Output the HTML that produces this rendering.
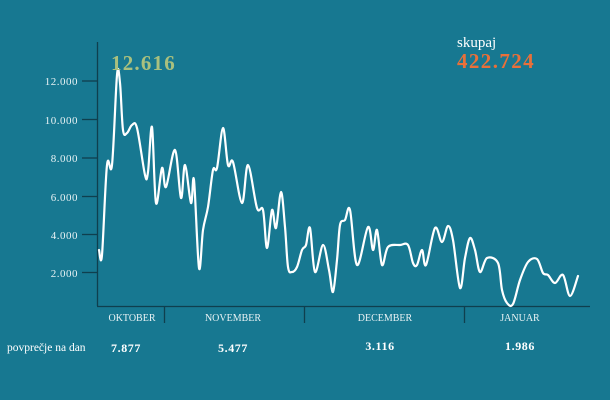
<!DOCTYPE html>
<html><head><meta charset="utf-8"><style>
html,body{margin:0;padding:0;background:#177891;}
svg{display:block;}
text{font-family:"Liberation Serif",serif;}
</style></head><body>
<svg width="610" height="400" viewBox="0 0 610 400" xmlns="http://www.w3.org/2000/svg">
<rect width="610" height="400" fill="#177891"/>
<g stroke="#0f3f4e" stroke-width="1.3" fill="none">
<line x1="97.5" y1="42" x2="97.5" y2="306"/>
<line x1="97" y1="306.5" x2="590" y2="306.5"/>
<line x1="164.5" y1="306" x2="164.5" y2="323"/>
<line x1="304.5" y1="306" x2="304.5" y2="323"/>
<line x1="464.5" y1="306" x2="464.5" y2="323"/>
<line x1="82" y1="81" x2="97" y2="81"/>
<line x1="82" y1="119.5" x2="97" y2="119.5"/>
<line x1="82" y1="158" x2="97" y2="158"/>
<line x1="82" y1="196.5" x2="97" y2="196.5"/>
<line x1="82" y1="234.5" x2="97" y2="234.5"/>
<line x1="82" y1="272.5" x2="97" y2="272.5"/>
</g>
<g fill="#e8f2f4" font-size="11" text-anchor="end" letter-spacing="0.5">
<text x="78" y="85">12.000</text>
<text x="78" y="124">10.000</text>
<text x="78" y="162">8.000</text>
<text x="78" y="201">6.000</text>
<text x="78" y="239">4.000</text>
<text x="78" y="277">2.000</text>
</g>
<path id="ln" fill="none" stroke="#ffffff" stroke-width="2.2" stroke-linejoin="round" stroke-linecap="round" d=""/>
<text x="111" y="70" font-size="21" font-weight="bold" fill="#a9c07e" letter-spacing="1.2">12.616</text>
<text x="457" y="47" font-size="15" fill="#ffffff">skupaj</text>
<text x="457" y="68" font-size="21" font-weight="bold" fill="#e8703a" letter-spacing="1.4">422.724</text>
<g fill="#e8f2f4" font-size="10" text-anchor="middle">
<text x="132" y="321">OKTOBER</text>
<text x="233" y="321">NOVEMBER</text>
<text x="385" y="321">DECEMBER</text>
<text x="520" y="321">JANUAR</text>
</g>
<text x="7" y="351" font-size="11.5" fill="#ffffff">povprečje na dan</text>
<g fill="#ffffff" font-size="12" font-weight="bold" text-anchor="middle" letter-spacing="0.6">
<text x="126" y="352">7.877</text>
<text x="233" y="352">5.477</text>
<text x="380" y="350">3.116</text>
<text x="520" y="350">1.986</text>
</g>
</svg>
<script>
var s="99,250 102,255 107,165 112,165 117,75 120,83 123,130 127,133 132,125 137,128 145,175 148,172 152,127 156,203 162,168 166,187 175,150 181,198 185,165 191,203 194,180 199,268 203,230 208,207 213,170 217,168 223,128 228,165 233,162 242,203 248,165 257,208 263,210 267,248 272,210 276,228 281,192 285,227 288,267 292,272 297,267 302,250 306,245 310,228 315,272 323,245 329,270 333,292 337,260 340,225 345,220 350,210 357,265 368,227 373,250 377,230 382,265 388,247 400,245 408,245 413,263 417,265 422,250 426,265 435,228 442,242 448,226 453,240 460,288 465,258 470,238 475,250 480,272 487,258 498,263 502,290 507,303 513,304 520,280 528,262 537,259 543,273 548,275 555,283 563,275 570,296 578,276";
var p=s.split(" ").map(function(a){return a.split(",").map(Number);});
var d="M"+p[0][0]+","+p[0][1];
for(var i=0;i<p.length-1;i++){
var p0=p[i-1]||p[i],p1=p[i],p2=p[i+1],p3=p[i+2]||p2;
var c1x=p1[0]+(p2[0]-p0[0])/6,c1y=p1[1]+(p2[1]-p0[1])/6;
var c2x=p2[0]-(p3[0]-p1[0])/6,c2y=p2[1]-(p3[1]-p1[1])/6;
d+=" C"+c1x.toFixed(1)+","+c1y.toFixed(1)+" "+c2x.toFixed(1)+","+c2y.toFixed(1)+" "+p2[0]+","+p2[1];
}
document.getElementById("ln").setAttribute("d",d);
</script>
</body></html>
